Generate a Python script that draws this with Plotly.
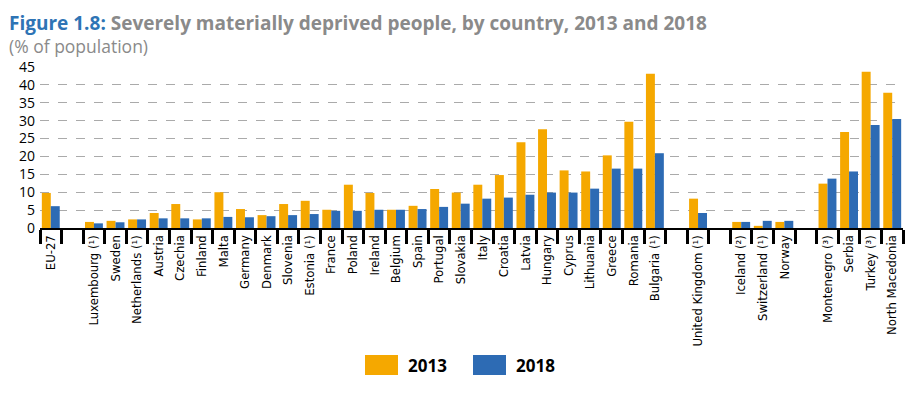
import plotly.graph_objects as go

categories = ["EU-27", " ", "Luxembourg (¹)", "Sweden", "Netherlands (¹)", "Austria", "Czechia",
              "Finland", "Malta", "Germany", "Denmark", "Slovenia", "Estonia (¹)", "France",
              "Poland", "Ireland", "Belgium", "Spain", "Portugal", "Slovakia", "Italy", "Croatia",
              "Latvia", "Hungary", "Cyprus", "Lithuania", "Greece", "Romania", "Bulgaria (¹)",
              "  ", "United Kingdom (¹)", "   ", "Iceland (²)", "Switzerland (¹)", "Norway",
              "    ", "Montenegro (³)", "Serbia", "Turkey (³)", "North Macedonia"]

values_2013 = [9.8, None, 1.7, 2.0, 2.4, 4.2, 6.7, 2.4, 10.0, 5.3, 3.6, 6.7, 7.6, 5.1,
               12.1, 9.8, 5.1, 6.2, 10.9, 9.9, 12.1, 14.8, 24.0, 27.6, 16.1, 15.8, 20.3, 29.7, 43.1,
               None, 8.2, None, 1.7, 0.6, 1.7, None, 12.4, 26.8, 43.7, 37.8]

values_2018 = [6.1, None, 1.3, 1.6, 2.4, 2.7, 2.7, 2.7, 3.1, 3.0, 3.3, 3.6, 3.9, 4.8,
               4.8, 5.1, 5.1, 5.3, 5.9, 6.8, 8.2, 8.5, 9.3, 9.9, 9.9, 11.0, 16.6, 16.6, 20.9,
               None, 4.2, None, 1.7, 2.0, 2.0, None, 13.8, 15.8, 28.8, 30.5]

y_ticks = [0, 5, 10, 15, 20, 25, 30, 35, 40, 45]
series_names = ["2013", "2018"]

ORANGE = "#F5A800"
BLUE = "#2D6BB4"

# the page body has an 8px margin: figure coordinates = window coordinates - 8
OFF = 8
W, H = 901, 381
PL, PR, PT, PB = 40, 903, 67, 228  # plot area in window pixels

fig = go.Figure()
fig.add_trace(go.Bar(x=categories, y=values_2013, name=series_names[0], marker_color=ORANGE,
                     marker_line_width=0))
fig.add_trace(go.Bar(x=categories, y=values_2018, name=series_names[1], marker_color=BLUE,
                     marker_line_width=0))

fig.update_layout(
    width=W, height=H,
    margin=dict(l=PL - OFF, r=W - (PR - OFF), t=PT - OFF, b=H - (PB - OFF), autoexpand=False),
    paper_bgcolor="white", plot_bgcolor="white",
    barmode="group", bargap=0.17, bargroupgap=0,
    showlegend=False,
    font=dict(family="Open Sans, Arial, sans-serif", color="black"),
)

fig.update_xaxes(
    type="category", categoryorder="array", categoryarray=categories,
    tickson="boundaries", ticks="outside", ticklen=14, tickwidth=3, tickcolor="black",
    showline=True, linecolor="black", linewidth=2,
    tickangle=-90, automargin=False,
    tickfont=dict(family="Liberation Sans Narrow, DejaVu Sans Condensed, sans-serif", size=13, color="black"),
    showgrid=False,
)
fig.update_yaxes(
    range=[0, 45], tickvals=y_ticks, ticktext=[str(v) for v in y_ticks],
    showgrid=True, gridcolor="#AAAAAA", gridwidth=1.2, griddash="dash",
    zeroline=False, showline=False, ticks="", automargin=False, ticklabelstandoff=4,
    tickfont=dict(family="Open Sans, Arial, sans-serif", size=14, color="black"),
)

def px_x(px):
    return (px - PL) / (PR - PL)

def px_y(py):
    return (PB - py) / (PB - PT)

# Title
fig.add_annotation(
    xref="paper", yref="paper", x=px_x(8), y=px_y(8.5),
    xanchor="left", yanchor="top", showarrow=False, align="left", borderpad=0,
    text="<b><span style='color:#2E74B5'>Figure 1.8:</span> <span style='color:#8A8A8A'>Severely materially deprived people, by country, 2013 and 2018</span></b>",
    font=dict(family="Open Sans, Arial, sans-serif", size=19),
)
fig.add_annotation(
    xref="paper", yref="paper", x=px_x(8), y=px_y(33),
    xanchor="left", yanchor="top", showarrow=False, align="left", borderpad=0,
    text="(% of population)",
    font=dict(family="Open Sans, Arial, sans-serif", size=17.5, color="#8A8A8A"),
)

# Legend (custom)
legend_items = [(365, 398, ORANGE, series_names[0], 406), (473, 506, BLUE, series_names[1], 514)]
for x0, x1, col, label, tx in legend_items:
    fig.add_shape(type="rect", xref="paper", yref="paper",
                  x0=px_x(x0), x1=px_x(x1), y0=px_y(375), y1=px_y(355),
                  fillcolor=col, line_width=0)
    fig.add_annotation(xref="paper", yref="paper", x=px_x(tx), y=px_y(365),
                       xanchor="left", yanchor="middle", showarrow=False,
                       text="<b>" + label + "</b>",
                       font=dict(family="Open Sans, Arial, sans-serif", size=17, color="black"))

fig.write_html("out.html")
